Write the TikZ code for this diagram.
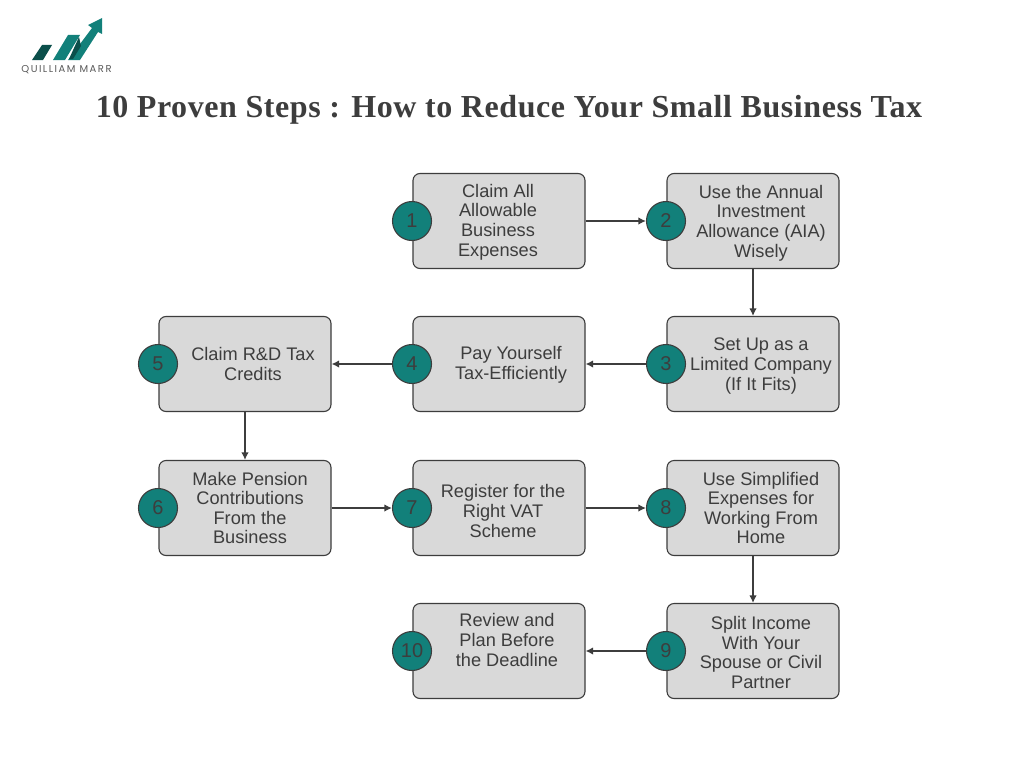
\documentclass[tikz,border=0pt]{standalone}
\usepackage{fontspec}
\setmainfont{Liberation Sans}
\newfontfamily\titlefont[LetterSpace=1.8]{Liberation Serif}
\newfontfamily\logofont[LetterSpace=15]{Poppins}
\usetikzlibrary{arrows.meta}
\definecolor{teal1}{HTML}{12807A}
\definecolor{teal2}{HTML}{0B4F4B}
\definecolor{ink}{HTML}{3D3D3D}
\definecolor{boxfill}{HTML}{D9D9D9}
\tikzset{
  stepbox/.style={draw=ink,fill=boxfill,line width=1.1pt,rounded corners=7pt,minimum width=172pt,minimum height=95pt,inner sep=0pt},
  badge/.style={circle,draw=ink,fill=teal1,line width=1.1pt,minimum size=39pt,inner sep=0pt,text=ink,font=\fontsize{20}{20}\selectfont},
  lbl/.style={align=center,text=ink,font=\fontsize{18.2}{19.65}\selectfont,inner sep=0pt},
  conn/.style={draw=ink,line width=1.8pt,-{Latex[length=7.5pt,width=7.5pt]}}
}
\begin{document}
\begin{tikzpicture}[x=1pt,y=-1pt]
\useasboundingbox (0,0) rectangle (1024,768);
\fill[white] (0,0) rectangle (1024,768);
% logo
\fill[teal2] (32,60) -- (42,45) -- (52,45) -- (43,60) -- cycle;
\fill[teal1] (53,60) -- (68,35) -- (80,35) -- (65,60) -- cycle;
\fill[teal1] (68,60) -- (80,60) -- (98,32) -- (102,34) -- (102,18) -- (88,25) -- (92,28) -- cycle;
\fill[teal2] (79,37) -- (81,46) -- (73,59) -- (69,59) -- cycle;
\node[text=ink!85,font=\logofont\fontsize{10}{10}\selectfont,inner sep=0pt] (logo) at (66.5,70) {QUILLIAM MARR};
\node[text=ink,font=\titlefont\bfseries\fontsize{32}{34}\selectfont,inner sep=0pt] (title) at (509,110) {10 Proven Steps : How to Reduce Your Small Business Tax};
% boxes
\node[stepbox] (b1) at (499,221) {};
\node[stepbox] (b2) at (753,221) {};
\node[stepbox] (b3) at (753,364) {};
\node[stepbox] (b4) at (499,364) {};
\node[stepbox] (b5) at (245,364) {};
\node[stepbox] (b6) at (245,508) {};
\node[stepbox] (b7) at (499,508) {};
\node[stepbox] (b8) at (753,508) {};
\node[stepbox] (b9) at (753,651) {};
\node[stepbox] (b10) at (499,651) {};
% badges
\node[badge] (c1) at (412,221) {1};
\node[badge] (c2) at (666,221) {2};
\node[badge] (c3) at (666,364) {3};
\node[badge] (c4) at (412,364) {4};
\node[badge] (c5) at (158,364) {5};
\node[badge] (c6) at (158,508) {6};
\node[badge] (c7) at (412,508) {7};
\node[badge] (c8) at (666,508) {8};
\node[badge] (c9) at (666,651) {9};
\node[badge] (c10) at (412,651) {10};
% labels
\node[lbl] (t1) at (498,222) {Claim All\\Allowable\\Business\\Expenses};
\node[lbl] (t2) at (761,223) {Use the Annual\\Investment\\Allowance (AIA)\\Wisely};
\node[lbl] (t3) at (761,366) {Set Up as a\\Limited Company\\(If It Fits)};
\node[lbl] (t4) at (511,364.5) {Pay Yourself\\Tax-Efficiently};
\node[lbl] (t5) at (253,364) {Claim R\&D Tax\\Credits};
\node[lbl] (t6) at (250,508) {Make Pension\\Contributions\\From the\\Business};
\node[lbl] (t7) at (503,511) {Register for the\\Right VAT\\Scheme};
\node[lbl] (t8) at (761,508) {Use Simplified\\Expenses for\\Working From\\Home};
\node[lbl] (t9) at (761,652.5) {Split Income\\With Your\\Spouse or Civil\\Partner};
\node[lbl] (t10) at (507,640) {Review and\\Plan Before\\the Deadline};
% connectors
\draw[conn] (b1.east) -- (c2.west);
\draw[conn] (b2.south) -- (b3.north);
\draw[conn] (c3.west) -- (b4.east);
\draw[conn] (c4.west) -- (b5.east);
\draw[conn] (b5.south) -- (b6.north);
\draw[conn] (b6.east) -- (c7.west);
\draw[conn] (b7.east) -- (c8.west);
\draw[conn] (b8.south) -- (b9.north);
\draw[conn] (c9.west) -- (b10.east);
\end{tikzpicture}
\end{document}
